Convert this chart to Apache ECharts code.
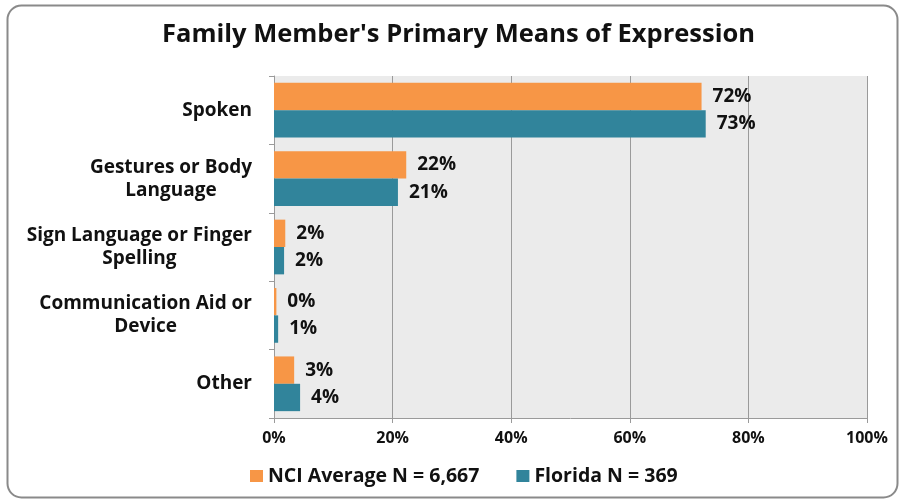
<!DOCTYPE html>
<html lang="en">
<head>
	<meta charset="UTF-8">
	<title>Family Member's Primary Means of Expression</title>
	<style>
		* {
			margin: 0;
			padding: 0;
		}

		#box {
			width: 901px;
			height: 502px;
		}
	</style>
	<script src="https://cdn.jsdelivr.net/npm/echarts@6/dist/echarts.min.js"></script>
</head>
<body>
<div id="box"></div>
</body>
<script>
	// 数据
	const categories = ['Spoken', 'Gestures or Body\nLanguage', 'Sign Language or Finger\nSpelling', 'Communication Aid or\nDevice', 'Other'];
	const nciValues = [72.1, 22.3, 1.9, 0.4, 3.4];
	const floridaValues = [72.8, 20.9, 1.7, 0.7, 4.4];
	const seriesNames = ['NCI Average N = 6,667', 'Florida N = 369'];
	const xTicks = [0, 20, 40, 60, 80, 100];

	const font = '"Open Sans", "DejaVu Sans", sans-serif';
	const myEcharts = echarts.init(document.getElementById('box'));

	const labelStyle = {
		show: true,
		position: 'right',
		distance: 11,
		color: '#111',
		fontFamily: font,
		fontWeight: 'bold',
		fontSize: 19,
		formatter: function (p) {
			return Math.round(p.value) + '%';
		},
	};

	myEcharts.setOption({
		backgroundColor: '#fff',
		title: {
			text: "Family Member's Primary Means of Expression",
			left: 157,
			top: 17,
			textStyle: {
				fontFamily: font,
				fontWeight: 'bold',
				fontSize: 25.5,
				color: '#111',
			},
		},
		legend: {
			bottom: 11,
			left: 245,
			itemWidth: 13,
			itemHeight: 12,
			itemGap: 37,
			icon: 'rect',
			textStyle: {
				fontFamily: font,
				fontWeight: 'bold',
				fontSize: 19.5,
				color: '#111',
			},
			data: seriesNames,
		},
		graphic: [{
			type: 'rect',
			shape: {x: 7.5, y: 5.5, width: 890, height: 492, r: 14},
			style: {fill: 'none', stroke: '#8a8a8a', lineWidth: 2},
			silent: true,
			z: 100,
		}],
		grid: {
			left: 274,
			right: 34,
			top: 76,
			bottom: 84,
			show: true,
			backgroundColor: '#ebebeb',
			borderWidth: 0,
		},
		xAxis: {
			type: 'value',
			min: xTicks[0],
			max: xTicks[xTicks.length - 1],
			interval: 20,
			axisLine: {show: true, lineStyle: {color: '#9a9a9a', width: 1}},
			axisTick: {show: true, length: 5, lineStyle: {color: '#9a9a9a'}},
			splitLine: {show: true, lineStyle: {color: '#9a9a9a', width: 1}},
			axisLabel: {
				margin: 12,
				fontFamily: font,
				fontWeight: 'bold',
				fontSize: 16,
				color: '#111',
				formatter: '{value}%',
			},
		},
		yAxis: {
			type: 'category',
			inverse: true,
			data: categories,
			axisLine: {show: true, lineStyle: {color: '#9a9a9a', width: 1}},
			axisTick: {show: true, length: 5, lineStyle: {color: '#9a9a9a'}},
			axisLabel: {
				margin: 22,
				align: 'right',
				// 每行在标签块内居中
				formatter: function (v) {
					return v.split('\n').map(function (s) {
						return '{c|' + s + '}';
					}).join('\n');
				},
				rich: {
					c: {
						align: 'center',
						fontFamily: font,
						fontWeight: 'bold',
						fontSize: 19,
						lineHeight: 23,
						color: '#111',
					},
				},
			},
		},
		series: [
			{
				name: seriesNames[0],
				type: 'bar',
				data: nciValues,
				barGap: '0%',
				barCategoryGap: '20%',
				itemStyle: {color: '#f79646'},
				label: labelStyle,
			},
			{
				name: seriesNames[1],
				type: 'bar',
				data: floridaValues,
				barGap: '0%',
				barCategoryGap: '20%',
				itemStyle: {color: '#31849b'},
				label: labelStyle,
			},
		],
	});
</script>
</html>
